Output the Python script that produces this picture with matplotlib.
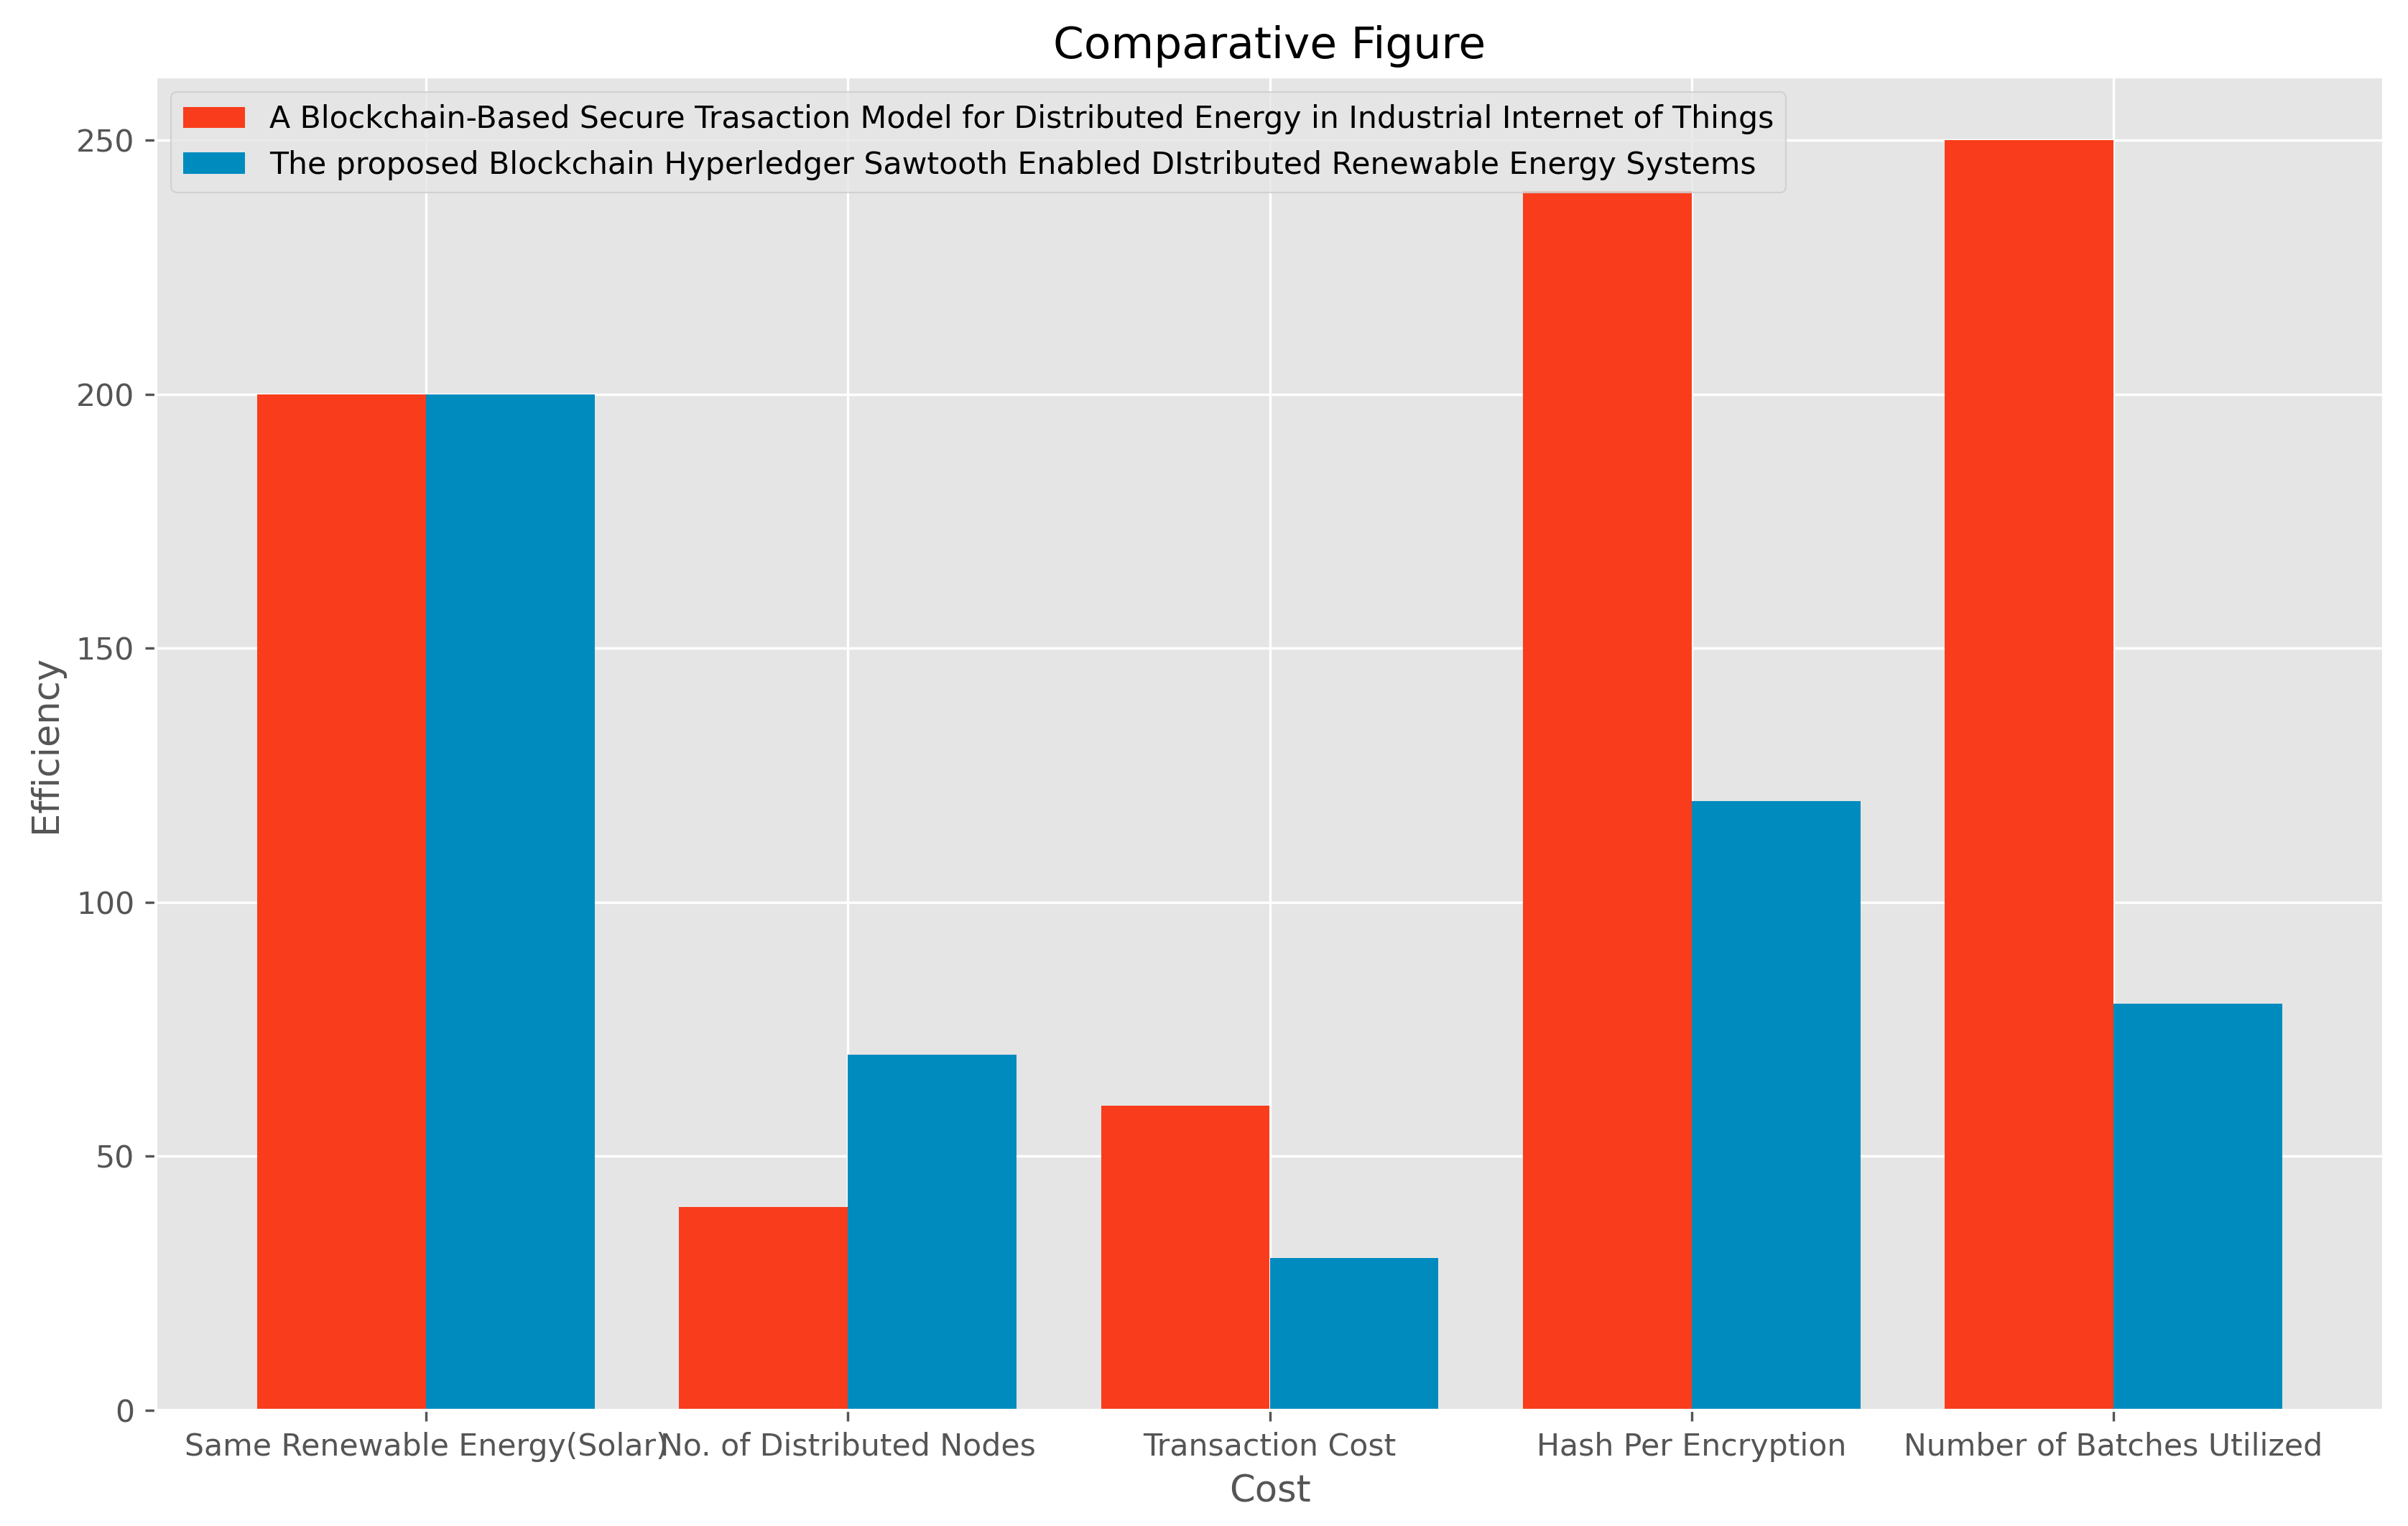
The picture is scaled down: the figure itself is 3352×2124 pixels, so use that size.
import matplotlib
matplotlib.use("Agg")
import matplotlib.pyplot as plt
import numpy as np

plt.style.use("ggplot")

categories = ["Same Renewable Energy(Solar)", "No. of Distributed Nodes", "Transaction Cost",
              "Hash Per Encryption", "Number of Batches Utilized"]
existing = [200, 40, 60, 240, 250]
proposed = [200, 70, 30, 120, 80]
label_existing = "A Blockchain-Based Secure Trasaction Model for Distributed Energy in Industrial Internet of Things"
label_proposed = "The proposed Blockchain Hyperledger Sawtooth Enabled DIstributed Renewable Energy Systems"

DPI = 307
fig = plt.figure(figsize=(3352 / DPI, 2124 / DPI), dpi=DPI)
ax = fig.add_axes([217 / 3352, 1 - 1963 / 2124, (3318 - 217) / 3352, (1963 - 107) / 2124])
x = np.arange(len(categories))
w = 0.4
ax.bar(x - w/2, existing, w, color="#F93C1B", label=label_existing)
ax.bar(x + w/2, proposed, w, color="#008BBF", label=label_proposed)
ax.set_xticks(x)
ax.set_xticklabels(categories)
ax.set_title("Comparative Figure", color="black")
ax.set_xlabel("Cost")
ax.set_ylabel("Efficiency")
ax.legend(loc="upper left")
fig.savefig("out.png", dpi=DPI)
